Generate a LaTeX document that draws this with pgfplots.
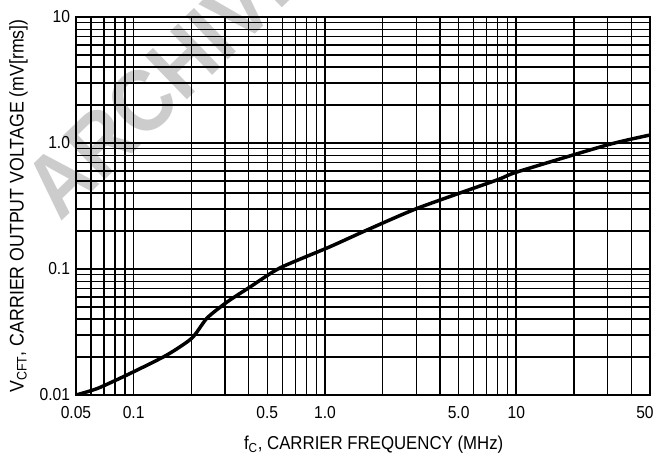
\documentclass[border=0pt]{standalone}
\usepackage{pgfplots}
\pgfplotsset{compat=1.18}
\usepackage{fontspec}
\setmainfont{Liberation Sans}[FakeStretch=0.9]
\begin{document}
\begin{tikzpicture}
% watermark, behind the grid
\begin{scope}
\clip (-57pt,-43.5pt) rectangle (435.75pt,296.25pt);
\node[rotate=44, text=gray!40, font=\bfseries\fontsize{66}{66}\selectfont,
      anchor=base west, inner sep=0pt] at (-12pt,129pt) {ARCHIVE};
\end{scope}
\begin{axis}[
  name=main,
  at={(0,0)}, anchor=south west,
  scale only axis,
  width=430.5pt, height=283.5pt,
  xmode=log, ymode=log,
  xmin=0.05, xmax=50, ymin=0.01, ymax=10,
  xtick={0.05,0.1,0.5,1,5,10,50},
  xticklabels={0.05,0.1,0.5,1.0,5.0,10,\makebox[0pt]{\hspace*{-7.5pt}50}},
  ytick={0.01,0.1,1,10},
  yticklabels={0.01,0.1,1.0,10},
  minor xtick={0.06,0.07,0.08,0.09,0.2,0.3,0.4,0.6,0.7,0.8,0.9,2,3,4,6,7,8,9,20,30,40},
  minor ytick={0.02,0.03,0.04,0.05,0.06,0.07,0.08,0.09,0.2,0.3,0.4,0.5,0.6,0.7,0.8,0.9,2,3,4,5,6,7,8,9},
  grid=both,
  major grid style={black, line width=1.2pt},
  minor grid style={black, line width=1.0pt},
  axis line style={black, line width=1.2pt},
  tick style={draw=none},
  tick label style={font=\fontsize{13}{14}\selectfont},
  xticklabel style={yshift=-5pt},
  yticklabel style={xshift=-1pt},
  xlabel={f\textsubscript{C}, CARRIER FREQUENCY (MHz)},
  ylabel={V\textsubscript{CFT}, CARRIER OUTPUT VOLTAGE (mV[rms])},
  xlabel style={font=\fontsize{14}{15}\selectfont, xshift=8pt, yshift=-6pt},
  ylabel style={font=\fontsize{14.8}{15}\selectfont, yshift=2pt},
]
\addplot[black, line width=2.6pt, smooth, tension=0.4] coordinates {
  (0.05,0.0100) (0.065,0.0113) (0.0957,0.0148) (0.1495,0.0208)
  (0.2018,0.0283) (0.242,0.0408) (0.308,0.0547) (0.406,0.0720)
  (0.582,0.102) (1.06,0.150) (1.66,0.204) (3.07,0.305)
  (7.93,0.509) (10.1,0.589) (29.8,0.964) (50,1.157)
};
\end{axis}
\end{tikzpicture}
\end{document}
